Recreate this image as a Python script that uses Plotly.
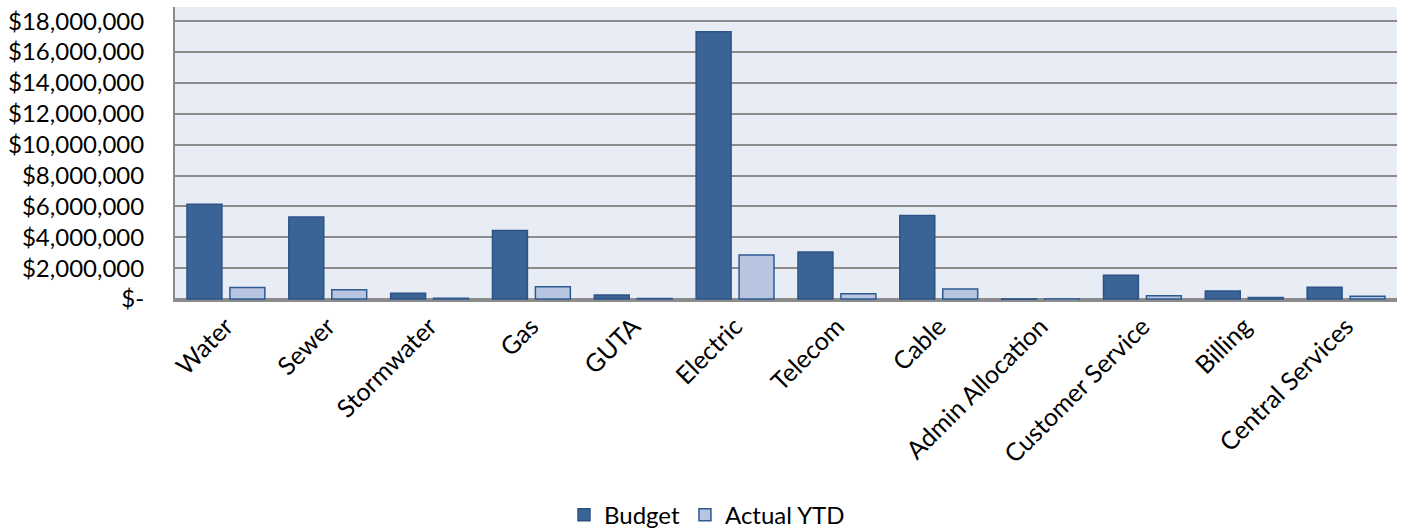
import plotly.graph_objects as go

categories = ["Water", "Sewer", "Stormwater", "Gas", "GUTA", "Electric", "Telecom",
              "Cable", "Admin Allocation", "Customer Service", "Billing", "Central Services"]
budget = [6150000, 5320000, 380000, 4440000, 270000, 17320000, 3050000,
          5420000, -120000, 1550000, 520000, 760000]
actual_ytd = [750000, 600000, 60000, 800000, 40000, 2850000, 350000,
              650000, -110000, 220000, 100000, 180000]

tick_vals = [0, 2000000, 4000000, 6000000, 8000000, 10000000, 12000000, 14000000, 16000000, 18000000]
tick_text = ["$-", "$2,000,000", "$4,000,000", "$6,000,000", "$8,000,000", "$10,000,000",
             "$12,000,000", "$14,000,000", "$16,000,000", "$18,000,000"]

FONT = "Lato, 'Open Sans', sans-serif"
FS = 24

fig = go.Figure()
fig.add_trace(go.Bar(
    name="Budget", x=categories, y=budget,
    marker=dict(color="#3A6496", line=dict(color="#2D5386", width=1.5)),
))
fig.add_trace(go.Bar(
    name="Actual YTD", x=categories, y=actual_ytd,
    marker=dict(color="#B7C5E0", line=dict(color="#2E5A92", width=1.5)),
))

fig.update_layout(
    width=1414, height=531,
    margin=dict(l=175, r=17, t=7, b=231, autoexpand=False),
    paper_bgcolor="white",
    plot_bgcolor="#E8ECF4",
    barmode="group",
    bargap=0.157,
    bargroupgap=0.186,
    font=dict(family=FONT, size=FS, color="#000000"),
    showlegend=True,
    legend=dict(orientation="h", xref="container", yref="paper",
                x=0.5, xanchor="center", y=-0.734, yanchor="middle",
                font=dict(family=FONT, size=FS), itemwidth=30,
                traceorder="normal"),
    xaxis=dict(
        tickangle=-45, showgrid=False, showline=True,
        linecolor="#8C8C8C", linewidth=2, ticks="",
        tickfont=dict(family=FONT, size=25),
    ),
    yaxis=dict(
        range=[-60000, 18920000],
        tickvals=tick_vals, ticktext=tick_text,
        showgrid=True, gridcolor="#8C8C8C", gridwidth=2,
        showline=True, linecolor="#8C8C8C", linewidth=2,
        zeroline=True, zerolinecolor="#8C8C8C", zerolinewidth=2,
        ticks="", tickfont=dict(family=FONT, size=FS),
        ticklabelstandoff=24,
    ),
)

fig.write_html("out.html", config={"displayModeBar": False},
               post_script="document.body.style.margin='0';")
